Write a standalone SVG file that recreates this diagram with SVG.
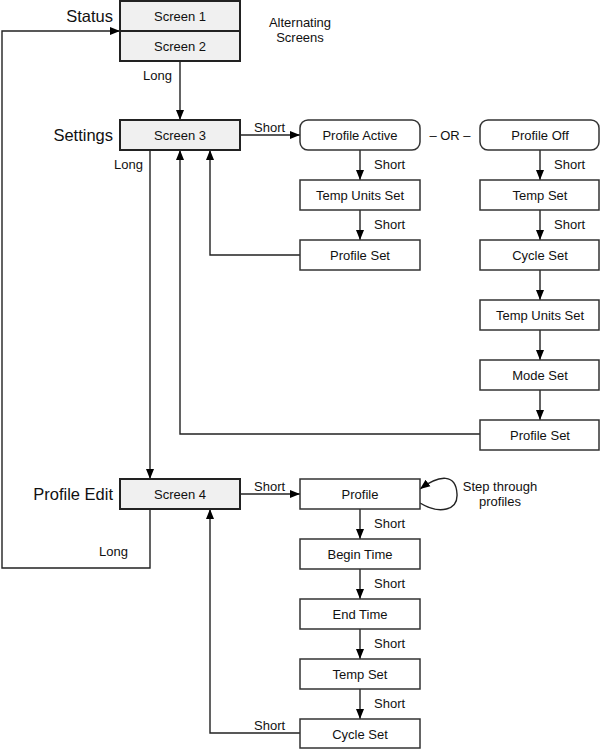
<svg xmlns="http://www.w3.org/2000/svg" width="600" height="749" viewBox="0 0 600 749">
<style>
text{font-family:"Liberation Sans",Arial,sans-serif;fill:#111}
.t{font-size:13px;text-anchor:middle;dominant-baseline:central}
.lb{font-size:13px}
.h{font-size:16.5px;text-anchor:end;dominant-baseline:central}
.box{fill:#fff;stroke:#333;stroke-width:1.5}
.scr{fill:#f0f0f0;stroke:#222;stroke-width:2}
.c{fill:none;stroke:#222;stroke-width:1.4}
</style>
<defs>
<marker id="a" viewBox="0 0 10 10" refX="10" refY="5" markerWidth="10" markerHeight="10" markerUnits="userSpaceOnUse" orient="auto"><path d="M0,1 L10,5 L0,9 z" fill="#000"/></marker>
</defs>
<rect width="600" height="749" fill="#fff"/>
<g id="connectors">
<path class="c" d="M180,61 V120" marker-end="url(#a)"/>
<path class="c" d="M240,135 H300" marker-end="url(#a)"/>
<path class="c" d="M360,150 V180" marker-end="url(#a)"/>
<path class="c" d="M360,210 V240" marker-end="url(#a)"/>
<path class="c" d="M300,255 H210 V150" marker-end="url(#a)"/>
<path class="c" d="M540,150 V180" marker-end="url(#a)"/>
<path class="c" d="M540,210 V240" marker-end="url(#a)"/>
<path class="c" d="M540,270 V300" marker-end="url(#a)"/>
<path class="c" d="M540,330 V360" marker-end="url(#a)"/>
<path class="c" d="M540,390 V420" marker-end="url(#a)"/>
<path class="c" d="M480,434 H180 V150" marker-end="url(#a)"/>
<path class="c" d="M150,150 V479" marker-end="url(#a)"/>
<path class="c" d="M150,509 V568 H2 V31 H120" marker-end="url(#a)"/>
<path class="c" d="M240,494 H300" marker-end="url(#a)"/>
<path class="c" d="M420,503 C440,515 458,510 457,494 C456,474 440,474 420,489" marker-end="url(#a)"/>
<path class="c" d="M360,509 V539" marker-end="url(#a)"/>
<path class="c" d="M360,569 V599" marker-end="url(#a)"/>
<path class="c" d="M360,629 V659" marker-end="url(#a)"/>
<path class="c" d="M360,689 V719" marker-end="url(#a)"/>
<path class="c" d="M300,733 H210 V509" marker-end="url(#a)"/>
</g>
<g id="labels">
<text class="h" x="113" y="16">Status</text>
<text class="h" x="113" y="135">Settings</text>
<text class="h" x="113" y="494">Profile Edit</text>
<text class="lb" x="300" y="27" text-anchor="middle">Alternating</text>
<text class="lb" x="300" y="42" text-anchor="middle">Screens</text>
<text class="lb" x="143" y="80">Long</text>
<text class="lb" x="254" y="132">Short</text>
<text class="lb" x="114" y="169">Long</text>
<text class="lb" x="374" y="169">Short</text>
<text class="lb" x="374" y="229">Short</text>
<text class="lb" x="554" y="169">Short</text>
<text class="lb" x="554" y="229">Short</text>
<text class="t" x="450" y="135">– OR –</text>
<text class="lb" x="254" y="491">Short</text>
<text class="lb" x="500" y="491" text-anchor="middle">Step through</text>
<text class="lb" x="500" y="506" text-anchor="middle">profiles</text>
<text class="lb" x="99" y="556">Long</text>
<text class="lb" x="374" y="528">Short</text>
<text class="lb" x="374" y="588">Short</text>
<text class="lb" x="374" y="648">Short</text>
<text class="lb" x="374" y="708">Short</text>
<text class="lb" x="254" y="730">Short</text>
</g>
<g id="screen1"><rect class="scr" x="120" y="1" width="120" height="30"/><text class="t" x="180" y="16">Screen 1</text></g>
<g id="screen2"><rect class="scr" x="120" y="31" width="120" height="30"/><text class="t" x="180" y="46">Screen 2</text></g>
<g id="screen3"><rect class="scr" x="120" y="120" width="120" height="30"/><text class="t" x="180" y="135">Screen 3</text></g>
<g id="screen4"><rect class="scr" x="120" y="479" width="120" height="30"/><text class="t" x="180" y="494">Screen 4</text></g>
<g id="profileActive"><rect class="box" x="300" y="120" width="120" height="30" rx="8"/><text class="t" x="360" y="135">Profile Active</text></g>
<g id="tempUnitsSetA"><rect class="box" x="300" y="180" width="120" height="30"/><text class="t" x="360" y="195">Temp Units Set</text></g>
<g id="profileSetA"><rect class="box" x="300" y="240" width="120" height="30"/><text class="t" x="360" y="255">Profile Set</text></g>
<g id="profileOff"><rect class="box" x="480" y="120" width="119" height="30" rx="8"/><text class="t" x="540" y="135">Profile Off</text></g>
<g id="tempSetB"><rect class="box" x="480" y="180" width="119" height="30"/><text class="t" x="540" y="195">Temp Set</text></g>
<g id="cycleSetB"><rect class="box" x="480" y="240" width="119" height="30"/><text class="t" x="540" y="255">Cycle Set</text></g>
<g id="tempUnitsSetB"><rect class="box" x="480" y="300" width="119" height="30"/><text class="t" x="540" y="315">Temp Units Set</text></g>
<g id="modeSet"><rect class="box" x="480" y="360" width="119" height="30"/><text class="t" x="540" y="375">Mode Set</text></g>
<g id="profileSetB"><rect class="box" x="480" y="420" width="119" height="30"/><text class="t" x="540" y="435">Profile Set</text></g>
<g id="profile"><rect class="box" x="300" y="479" width="120" height="30"/><text class="t" x="360" y="494">Profile</text></g>
<g id="beginTime"><rect class="box" x="300" y="539" width="120" height="30"/><text class="t" x="360" y="554">Begin Time</text></g>
<g id="endTime"><rect class="box" x="300" y="599" width="120" height="30"/><text class="t" x="360" y="614">End Time</text></g>
<g id="tempSetC"><rect class="box" x="300" y="659" width="120" height="30"/><text class="t" x="360" y="674">Temp Set</text></g>
<g id="cycleSetC"><rect class="box" x="300" y="719" width="120" height="29"/><text class="t" x="360" y="734">Cycle Set</text></g>
</svg>
